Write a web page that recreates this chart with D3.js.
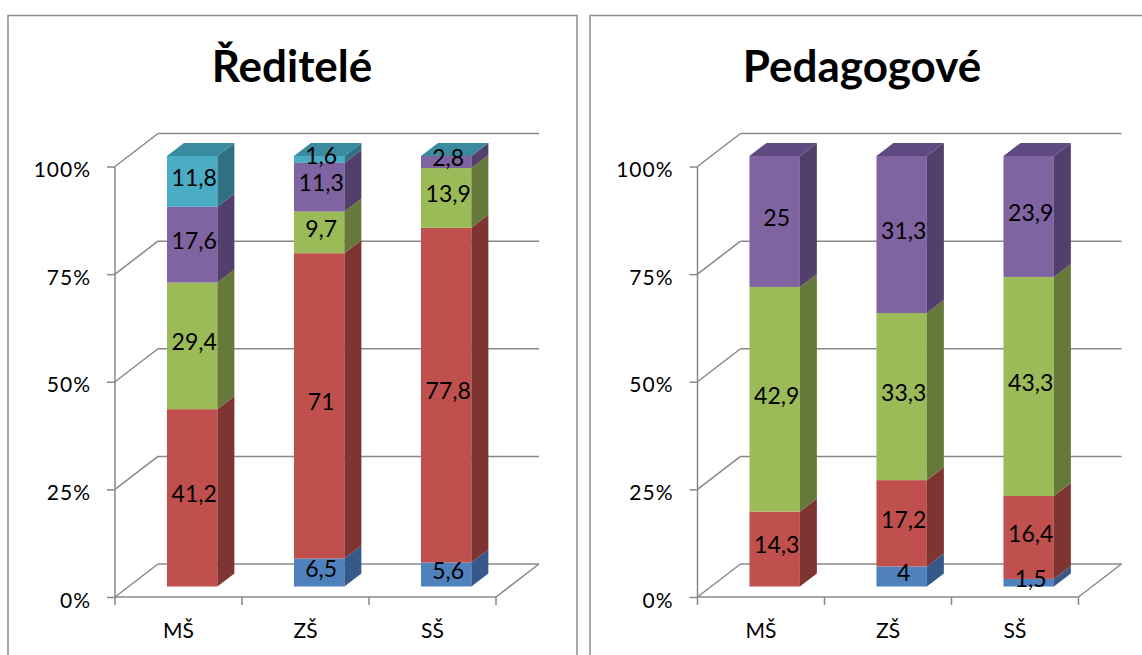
<!DOCTYPE html>
<html><head><meta charset="utf-8">
<script src="https://cdn.jsdelivr.net/npm/d3@7"></script>
<style>body{margin:0;background:#fff}svg{display:block}text{font-family:Lato,"Open Sans",sans-serif}</style>
</head><body><svg id="c" width="1142" height="655"></svg>
<script>
// ---------- data ----------
const categories = ["MŠ", "ZŠ", "SŠ"];
const yTicks = [0, 0.25, 0.5, 0.75, 1];
const seriesKeys = ["modrá", "červená", "zelená", "fialová", "tyrkysová"];

// Ředitelé
const reditelModra = [0, 6.5, 5.6];
const reditelCervena = [41.2, 71, 77.8];
const reditelZelena = [29.4, 9.7, 13.9];
const reditelFialova = [17.6, 11.3, 2.8];
const reditelTyrkysova = [11.8, 1.6, 0];

// Pedagogové
const pedModra = [0, 4, 1.5];
const pedCervena = [14.3, 17.2, 16.4];
const pedZelena = [42.9, 33.3, 43.3];
const pedFialova = [25, 31.3, 23.9];

const titles = ["Ředitelé", "Pedagogové"];

// ---------- styles ----------
const frontCol = ["#4F81BD", "#C0504D", "#9BBB59", "#8064A2", "#4BACC6"];
const sideCol  = ["#36598A", "#7E3532", "#66793A", "#523F6C", "#2F7182"];
const topCol   = ["#3F679A", "#9A3F3D", "#7C9747", "#5E4A80", "#3A8BA0"];
const gridCol = "#888888";

const svg = d3.select("#c");

function rows(arrs) {
  return categories.map((c, i) => {
    const r = {cat: c};
    arrs.forEach((a, k) => r[seriesKeys[k]] = a[i]);
    return r;
  });
}

function drawPanel(panelX, panelW, axisX, titleX, title, arrs) {
  const keys = seriesKeys.slice(0, arrs.length);
  const g = svg.append("g");
  g.append("rect").attr("x", panelX).attr("y", 15.5).attr("width", panelW).attr("height", 700)
    .attr("fill", "none").attr("stroke", "#8c8c8c").attr("stroke-width", 1.5);
  g.append("text").attr("x", titleX).attr("y", 82).attr("text-anchor", "middle")
    .attr("font-size", 44).attr("font-weight", 700).attr("fill", "#000").text(title);

  const plotW = 381;
  const x = d3.scaleBand().domain(categories).range([axisX, axisX + plotW]);
  const y = d3.scaleLinear().domain([0, 1]).range([597, 166.5]);
  const DX = 43, DY = 33;

  const grid = g.append("g").attr("stroke", gridCol).attr("stroke-width", 1.5).attr("fill", "none");
  yTicks.forEach(t => {
    grid.append("line").attr("x1", axisX + DX).attr("x2", axisX + plotW + DX)
      .attr("y1", y(t) - DY).attr("y2", y(t) - DY);
    grid.append("line").attr("x1", axisX).attr("x2", axisX + DX)
      .attr("y1", y(t)).attr("y2", y(t) - DY);
  });
  grid.append("line").attr("x1", axisX).attr("x2", axisX + plotW).attr("y1", y(0)).attr("y2", y(0));
  grid.append("line").attr("x1", axisX + plotW).attr("x2", axisX + plotW + DX).attr("y1", y(0)).attr("y2", y(0) - DY);
  const bounds = categories.map(c => x(c)).concat([axisX + plotW]);
  bounds.forEach(b => grid.append("line").attr("x1", b).attr("x2", b).attr("y1", y(0)).attr("y2", y(0) + 8));

  const ya = g.append("g").attr("transform", `translate(${axisX},0)`)
    .call(d3.axisLeft(y).tickValues(yTicks).tickFormat(d3.format(".0%")).tickSize(8).tickPadding(16));
  ya.select(".domain").attr("stroke", gridCol).attr("stroke-width", 1.5).attr("d", `M0,${y(1)}V${y(0)}`);
  ya.selectAll(".tick line").attr("stroke", gridCol).attr("stroke-width", 1.5);
  ya.selectAll(".tick text").attr("font-size", 21).attr("letter-spacing", 1).attr("fill", "#000")
    .attr("font-family", "Lato").attr("dy", "0.48em");

  const xa = g.append("g").attr("transform", `translate(0,${y(0)})`)
    .call(d3.axisBottom(x).tickSize(0).tickPadding(26));
  xa.select(".domain").remove();
  xa.selectAll(".tick text").attr("font-size", 21).attr("fill", "#000").attr("font-family", "Lato");

  const data = rows(arrs);
  const stacked = d3.stack().keys(keys).offset(d3.stackOffsetExpand)(data);
  const f1 = 0.318, bw = x.bandwidth() * 0.397, dd = 0.395;
  const ox = f1 * DX, oy = -f1 * DY, sx = dd * DX, sy = -dd * DY;
  const bars = g.append("g");
  const labels = g.append("g");
  categories.forEach((c, ci) => {
    const x0 = x(c) + x.bandwidth() / 2 - bw / 2 + ox;
    const x1 = x0 + bw;
    let topK = 0;
    stacked.forEach((s, k) => {
      const v0 = s[ci][0], v1 = s[ci][1];
      topK = k;
      if (v1 - v0 <= 0) return;
      const yb = y(v0) + oy, yt = y(v1) + oy;
      bars.append("rect").attr("x", x0).attr("y", yt).attr("width", bw).attr("height", yb - yt)
        .attr("fill", frontCol[k]);
      bars.append("path").attr("d", `M${x1},${yb}L${x1 + sx},${yb + sy}L${x1 + sx},${yt + sy}L${x1},${yt}Z`)
        .attr("fill", sideCol[k]);
    });
    const last = stacked[stacked.length - 1][ci][1];
    const yt = y(last) + oy;
    bars.append("path").attr("d", `M${x0},${yt}L${x0 + sx},${yt + sy}L${x1 + sx},${yt + sy}L${x1},${yt}Z`)
      .attr("fill", topCol[topK]);
    stacked.forEach((s, k) => {
      const raw = data[ci][keys[k]];
      if (!raw) return;
      const ym = (y(s[ci][0]) + y(s[ci][1])) / 2 + oy;
      labels.append("text").attr("x", (x0 + x1) / 2 + 2).attr("y", ym - 4).attr("dy", "0.36em")
        .attr("text-anchor", "middle").attr("font-size", 23).attr("fill", "#000")
        .text(String(raw).replace(".", ","));
    });
  });
}

drawPanel(8, 569, 115, 292, titles[0], [reditelModra, reditelCervena, reditelZelena, reditelFialova, reditelTyrkysova]);
drawPanel(590, 700, 697.5, 862, titles[1], [pedModra, pedCervena, pedZelena, pedFialova]);
</script></body></html>
